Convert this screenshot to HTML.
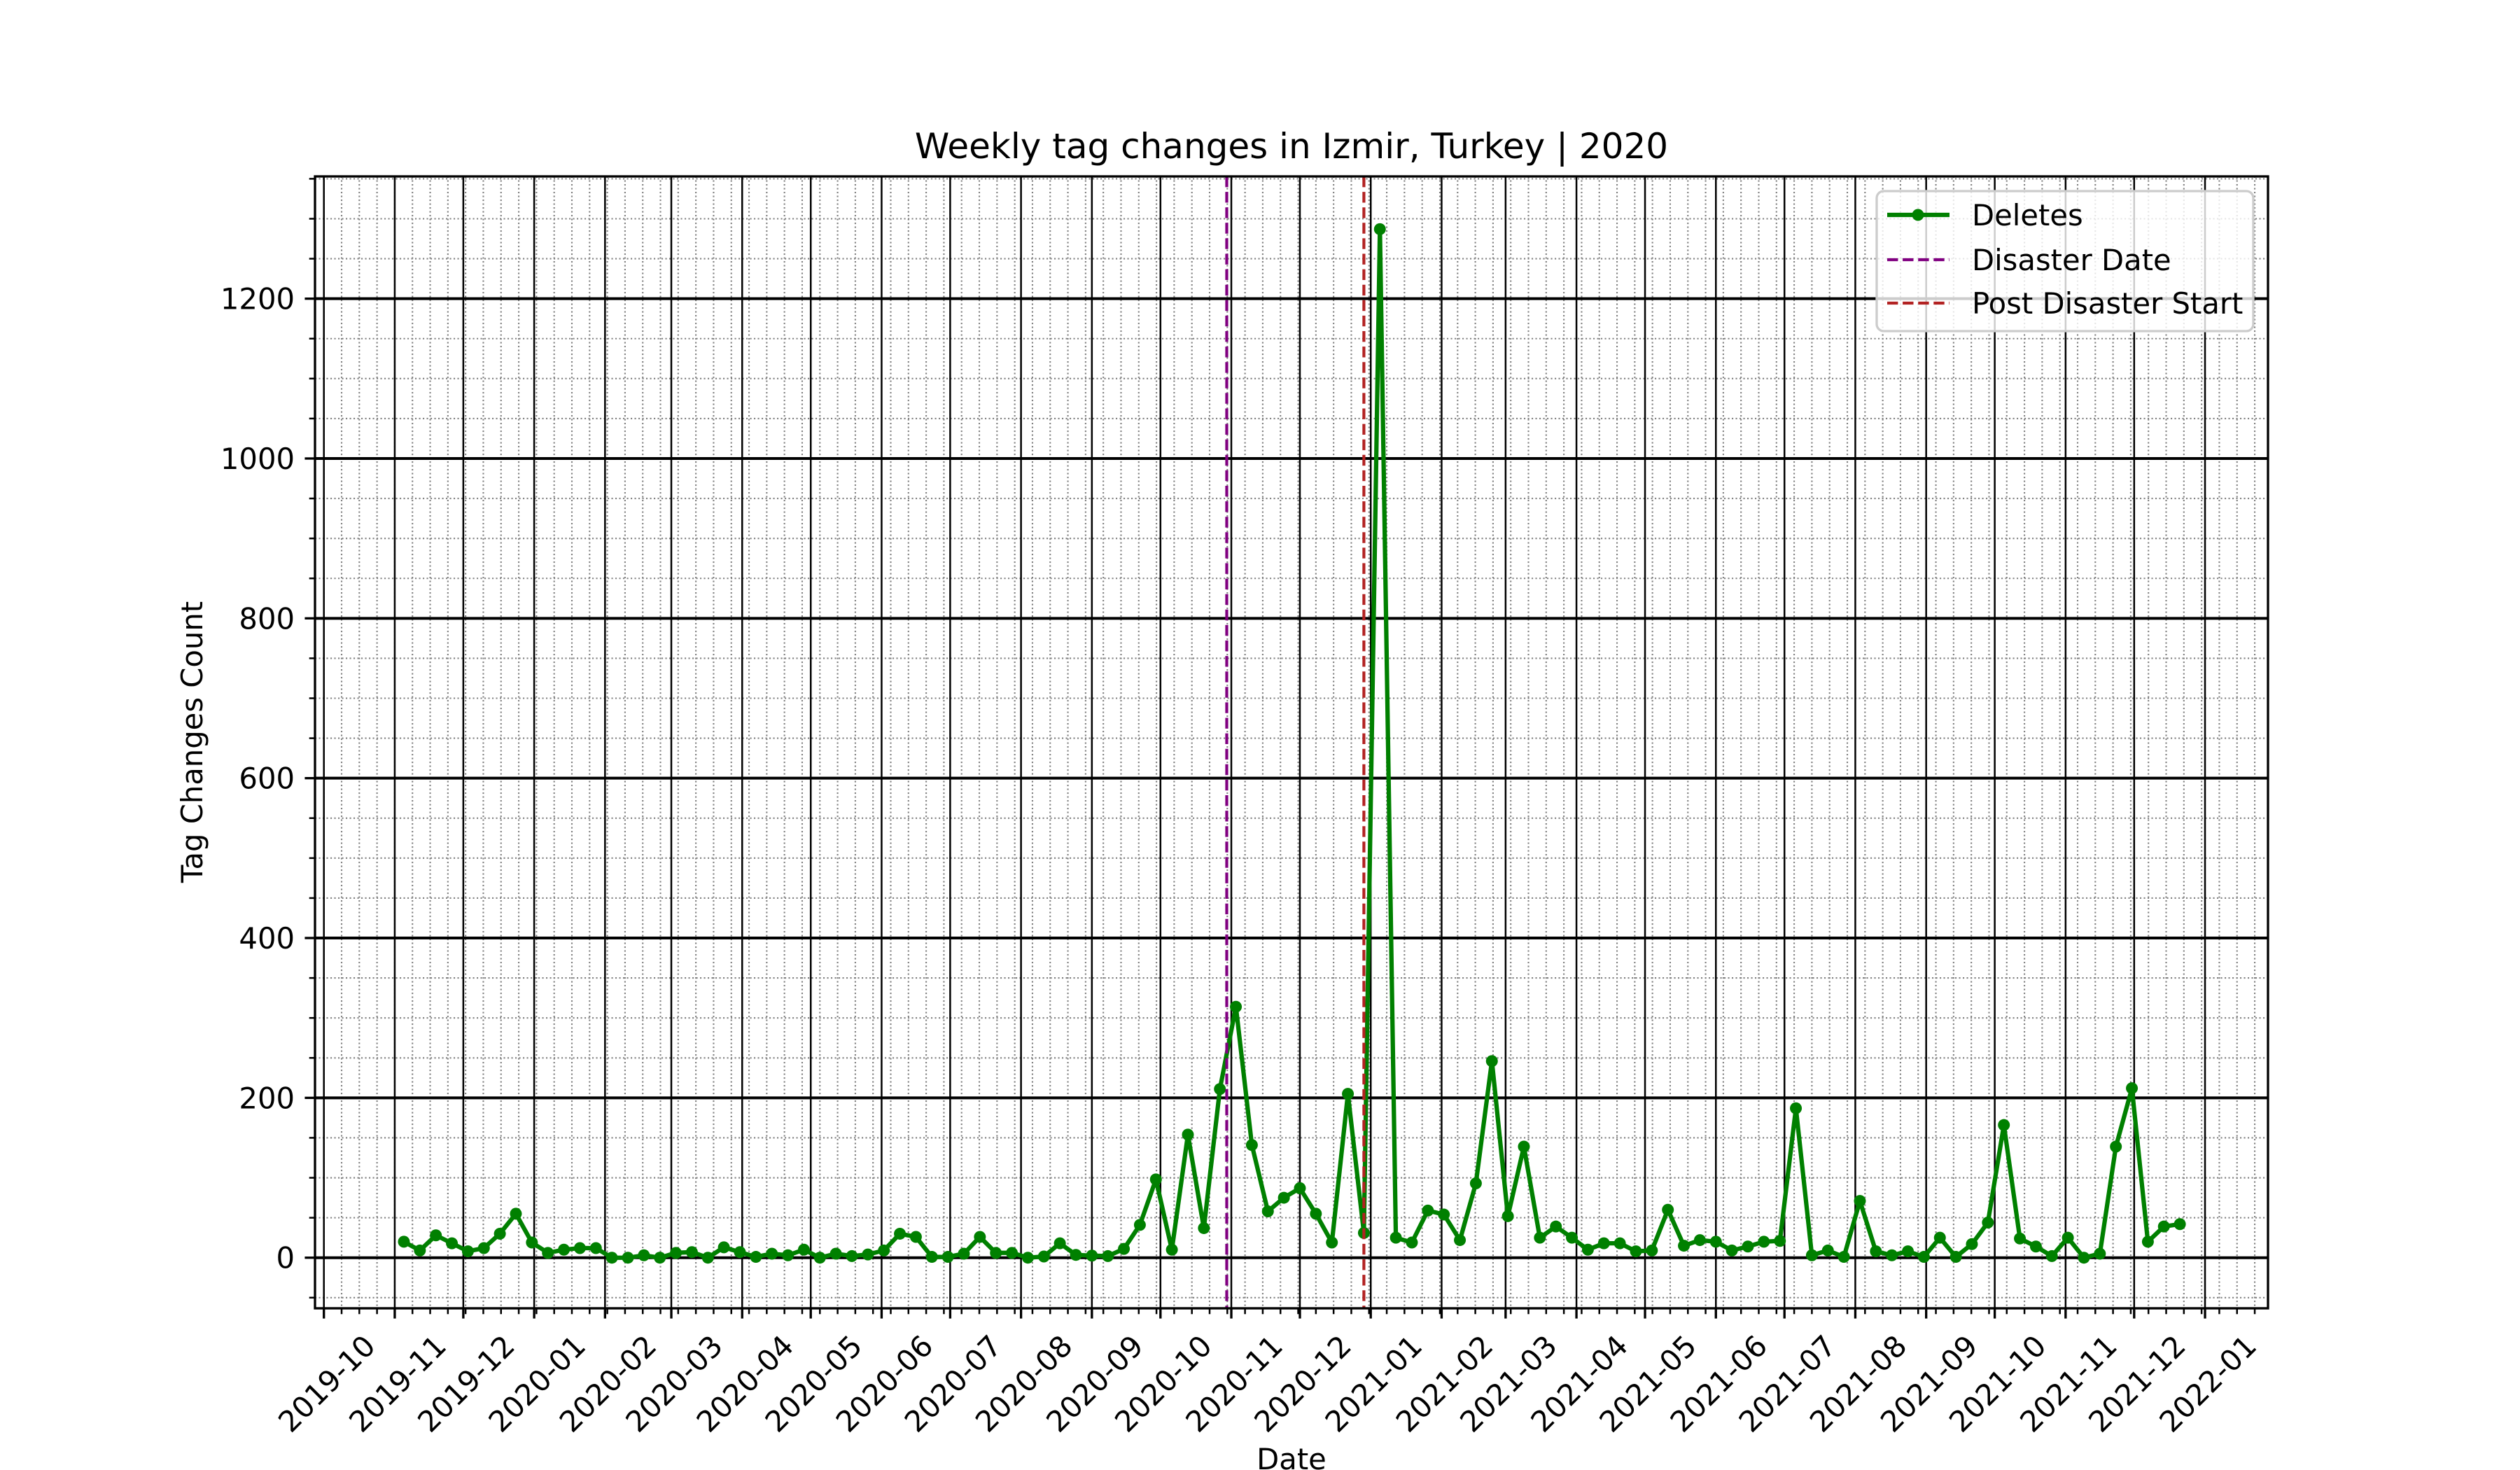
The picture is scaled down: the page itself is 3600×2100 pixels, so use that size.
<!DOCTYPE html>
<html><head><meta charset="utf-8"><title>Weekly tag changes in Izmir</title>
<style>html,body{margin:0;padding:0;background:#fff}svg{display:block}text{font-family:"DejaVu Sans","Liberation Sans",sans-serif;fill:#000}</style>
</head><body>
<svg id="chart" xmlns="http://www.w3.org/2000/svg" width="3600" height="2100" viewBox="0 0 3600 2100">
<rect x="0" y="0" width="3600" height="2100" fill="#fff"/>
<defs><clipPath id="plotclip"><rect x="450" y="252" width="2790" height="1617"/></clipPath></defs>
<g id="grid"></g>
<g id="plot" clip-path="url(#plotclip)"></g>
<g id="axes"></g>
<text x="1845" y="226" font-size="50" text-anchor="middle">Weekly tag changes in Izmir, Turkey | 2020</text>
<text x="1845" y="2099" font-size="41.7" text-anchor="middle">Date</text>
<text transform="translate(289,1060) rotate(-90)" font-size="41.7" text-anchor="middle">Tag Changes Count</text>
<g id="legend">
  <rect x="2681" y="273" width="538" height="200" rx="10" fill="#fff" fill-opacity="0.8" stroke="#cccccc" stroke-width="3.3"/>
  <g>
    <line x1="2696" y1="307" x2="2785" y2="307" stroke="#008000" stroke-width="6.25"/>
    <circle cx="2740" cy="307" r="8.5" fill="#008000"/>
    <text x="2817" y="322" font-size="41.7">Deletes</text>
  </g>
  <g>
    <line x1="2696" y1="371" x2="2785" y2="371" stroke="#800080" stroke-width="4.2" stroke-dasharray="15.4 6.7"/>
    <text x="2817" y="386" font-size="41.7">Disaster Date</text>
  </g>
  <g>
    <line x1="2696" y1="433" x2="2785" y2="433" stroke="#b22222" stroke-width="4.2" stroke-dasharray="15.4 6.7"/>
    <text x="2817" y="448" font-size="41.7">Post Disaster Start</text>
  </g>
</g>
</svg>
<script>
const startDate = "2019-11-05";
const stepDays = 7;
const deletes = [20,9,28,18,8,12,30,55,19,6,10,12,12,0,0,3,0,6,7,0,
13,7,1,5,3,10,0,5,2,4,9,30,26,1,1,5,26,6,6,
0,1.5,18,3.5,2.6,2,11,41,98,10,154,37,211,314,141,58,75,87,55,19,205,31,
1287,
25,19,59,54,22,93,246,52,139,25,39,25,10,18,18,8,9,60,15,22,20,9,14,20,
21,187,3,9,1,71,8,3,8,1,25,1,17,44,166,24,14,2,25,0,5,139,212,20,39,42];
const disasterDate = "2020-10-30";
const postDisasterStart = "2020-12-29";
const yTicks = [0,200,400,600,800,1000,1200];
const xTickLabels = ["2019-10","2019-11","2019-12","2020-01","2020-02","2020-03","2020-04","2020-05","2020-06","2020-07","2020-08","2020-09","2020-10","2020-11","2020-12","2021-01","2021-02","2021-03","2021-04","2021-05","2021-06","2021-07","2021-08","2021-09","2021-10","2021-11","2021-12","2022-01"];

const NS="http://www.w3.org/2000/svg";
const L=450,R=3240,T=252,B=1869;
const ORIGIN=Date.UTC(2019,9,1), DAY=86400000;
const PXD=3.2653, X0=462.7;
function dayOf(s){const p=s.split('-').map(Number);return (Date.UTC(p[0],p[1]-1,p[2]||1)-ORIGIN)/DAY;}
function xs(d){return X0+d*PXD;}
function ys(v){return 1796.7-v*1.1417;}
const dayMin=(L-X0)/PXD, dayMax=(R-X0)/PXD;
function mk(tag,attrs,parent){const e=document.createElementNS(NS,tag);for(const k in attrs)e.setAttribute(k,attrs[k]);parent.appendChild(e);return e;}
const grid=document.getElementById('grid'),plot=document.getElementById('plot'),axes=document.getElementById('axes');

for(let d=Math.ceil(dayMin/7.75)*7.75; d<=dayMax; d+=7.75){
  const x=xs(d);
  const g=mk('line',{x1:x,x2:x,y1:T,y2:B,stroke:'#808080','stroke-width':2.1,'stroke-dasharray':'2.1 3.4'},grid);
  
  
  const t=mk('line',{x1:x,x2:x,y1:B,y2:B+8.3,stroke:'#000','stroke-width':2.5},axes);
  
  
}
for(let v=-50; v<=1350; v+=50){
  const y=ys(v);
  const g=mk('line',{x1:L,x2:R,y1:y,y2:y,stroke:'#808080','stroke-width':2.1,'stroke-dasharray':'2.1 3.4'},grid);
  
  
  const t=mk('line',{x1:L-8.3,x2:L,y1:y,y2:y,stroke:'#000','stroke-width':2.5},axes);
  
  
}
xTickLabels.forEach(lab=>{
  const x=xs(dayOf(lab+"-01"));
  const g=mk('line',{x1:x,x2:x,y1:T,y2:B,stroke:'#000','stroke-width':2.5},grid);
  
  
  const t=mk('line',{x1:x,x2:x,y1:B,y2:B+14.6,stroke:'#000','stroke-width':3.33},axes);
  
  
  const tx=mk('text',{'font-size':41.7,'text-anchor':'end'},axes);
  tx.textContent=lab;
  
  
  let w=0;try{w=tx.getComputedTextLength();}catch(e){}
  if(!w)w=160;
  const h=48, W=(w+h)/Math.SQRT2;
  const cx=x+W/2-30, cy=B+29;
  tx.setAttribute('transform','translate('+cx+','+cy+') rotate(-45) translate(0,38.7)');
});
yTicks.forEach(v=>{
  const y=ys(v);
  const g=mk('line',{x1:L,x2:R,y1:y,y2:y,stroke:'#000','stroke-width':4},grid);
  
  
  const t=mk('line',{x1:L-14.6,x2:L,y1:y,y2:y,stroke:'#000','stroke-width':3.33},axes);
  
  
  const tx=mk('text',{x:L-29,y:y+15,'font-size':41.7,'text-anchor':'end'},axes);
  tx.textContent=String(v);
  
  
});
const sp=mk('rect',{x:L,y:T,width:R-L,height:B-T,fill:'none',stroke:'#000','stroke-width':3.33},axes);



const d0=dayOf(startDate);
const pts=deletes.map((v,i)=>[xs(d0+i*stepDays),ys(v)]);
const line=mk('polyline',{points:pts.map(p=>p[0].toFixed(1)+','+p[1].toFixed(1)).join(' '),fill:'none',stroke:'#008000','stroke-width':6.25,'stroke-linejoin':'round'},plot);


pts.forEach(p=>{
  const c=mk('circle',{cx:p[0],cy:p[1],r:8.5,fill:'#008000'},plot);
  
  
});
[[disasterDate,'#800080','disaster-date-line'],[postDisasterStart,'#b22222','post-disaster-start-line']].forEach(a=>{
  const x=xs(dayOf(a[0]));
  const l=mk('line',{x1:x,x2:x,y1:T,y2:B,stroke:a[1],'stroke-width':4.2,'stroke-dasharray':'15.4 6.7'},plot);
  
  
});
document.getElementById('chart').appendChild(document.getElementById('legend'));
</script>
</body></html>
